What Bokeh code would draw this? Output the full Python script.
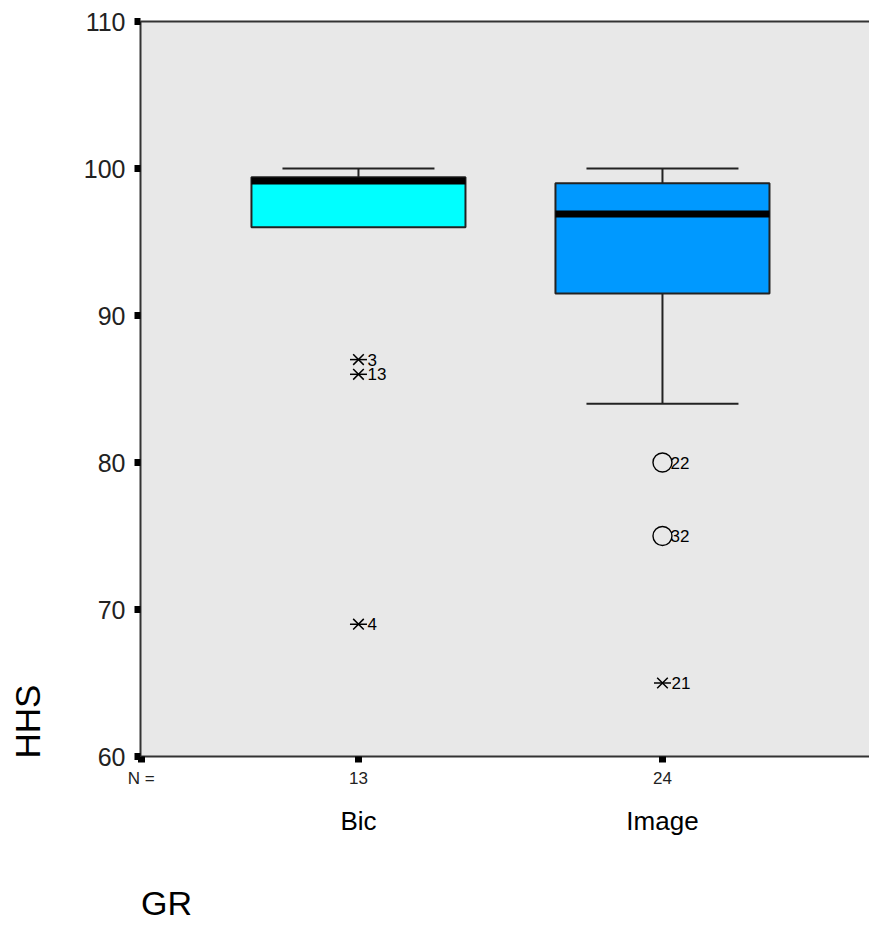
from bokeh.plotting import figure
from bokeh.models import Range1d, FixedTicker, Label, ColumnDataSource, LinearAxis
from bokeh.embed import file_html
from bokeh.resources import INLINE

# ---- data ----
groups = ["Bic", "Image"]
n_counts = ["13", "24"]
xpos = [1, 2]
q1 = [96.0, 91.5]
median = [99.15, 96.9]
q3 = [99.4, 99.0]
whisk_lo = [96.0, 84.0]
whisk_hi = [100.0, 100.0]
box_colors = ["#00FFFF", "#0099FF"]

star_x = [1, 1, 1, 2]
star_y = [87.0, 86.0, 69.0, 65.0]
star_lab = ["3", "13", "4", "21"]
circ_x = [2, 2]
circ_y = [80.0, 75.0]
circ_lab = ["22", "32"]

y_ticks = [60, 70, 80, 90, 100, 110]
x_title = "GR"
y_title = "HHS"

FONT = "Liberation Sans"
X0, X1 = 0.283, 2.681
Y0, Y1 = 60, 110

p = figure(width=869, height=925, output_backend="svg", toolbar_location=None,
           x_range=Range1d(X0, X1), y_range=Range1d(Y0, Y1),
           min_border_left=140, min_border_right=0, min_border_top=21,
           min_border_bottom=169)
p.border_fill_color = "white"
p.background_fill_color = "#E8E8E8"
p.grid.visible = False
p.outline_line_color = None

half_box = 0.352
half_cap = 0.25
LC = "#222222"

# whiskers
for i in range(2):
    p.segment(x0=[xpos[i]], y0=[q3[i]], x1=[xpos[i]], y1=[whisk_hi[i]], line_color=LC, line_width=2)
    p.segment(x0=[xpos[i] - half_cap], y0=[whisk_hi[i]], x1=[xpos[i] + half_cap], y1=[whisk_hi[i]], line_color=LC, line_width=2)
    if whisk_lo[i] < q1[i]:
        p.segment(x0=[xpos[i]], y0=[whisk_lo[i]], x1=[xpos[i]], y1=[q1[i]], line_color=LC, line_width=2)
        p.segment(x0=[xpos[i] - half_cap], y0=[whisk_lo[i]], x1=[xpos[i] + half_cap], y1=[whisk_lo[i]], line_color=LC, line_width=2)

src = ColumnDataSource(dict(x=xpos, bottom=q1, top=q3, color=box_colors, med=median))
p.vbar(x="x", bottom="bottom", top="top", width=2 * half_box, fill_color="color",
       line_color=LC, line_width=2, source=src)
p.rect(x="x", y="med", width=2 * half_box, height=7, height_units="screen",
       fill_color="black", line_color=None, source=src)

# outliers: extreme values as asterisk-like stars, outliers as circles
p.scatter(x=star_x, y=star_y, marker="dash", size=17, line_color="black", line_width=1.5)
p.scatter(x=star_x, y=star_y, marker="x", size=15, line_color="black", line_width=1.5)
p.scatter(x=circ_x, y=circ_y, marker="circle", size=19, fill_color=None, line_color="black", line_width=1.4)
for x, y, t in zip(star_x, star_y, star_lab):
    p.add_layout(Label(x=x, y=y, text=t, x_offset=9, text_baseline="middle", text_align="left",
                       text_font=FONT, text_font_size="17px", text_color="black"))
for x, y, t in zip(circ_x, circ_y, circ_lab):
    p.add_layout(Label(x=x, y=y, text=t, x_offset=8, text_baseline="middle", text_align="left",
                       text_font=FONT, text_font_size="17px", text_color="black"))

# y axis
p.yaxis.ticker = FixedTicker(ticks=y_ticks)
p.yaxis.major_label_text_font = FONT
p.yaxis.major_label_text_font_size = "25px"
p.yaxis.major_label_text_color = "#222222"
p.yaxis.major_tick_line_width = 7
p.yaxis.major_tick_line_color = "black"
p.yaxis.major_tick_out = 6
p.yaxis.major_tick_in = 0
p.yaxis.minor_tick_line_color = None
p.yaxis.axis_line_color = "#333333"
p.yaxis.axis_line_width = 2
p.yaxis.major_label_standoff = 9

# x axis with N counts
nx = X0 + 0.002
p.xaxis.ticker = FixedTicker(ticks=[nx] + xpos)
ov = {xpos[i]: n_counts[i] for i in range(2)}
ov[nx] = "N ="
p.xaxis.major_label_overrides = ov
p.xaxis.major_label_text_font = FONT
p.xaxis.major_label_text_font_size = "17px"
p.xaxis.major_label_text_color = "#222222"
p.xaxis.major_tick_line_width = 7
p.xaxis.major_tick_line_color = "black"
p.xaxis.major_tick_out = 6
p.xaxis.major_tick_in = 0
p.xaxis.minor_tick_line_color = None
p.xaxis.axis_line_color = "#333333"
p.xaxis.axis_line_width = 2
p.xaxis.major_label_standoff = 6


def text_axis(ticks, labels, standoff, size, side, orientation="horizontal"):
    ax = LinearAxis(ticker=FixedTicker(ticks=ticks),
                    major_label_overrides={t: l for t, l in zip(ticks, labels)})
    ax.axis_line_color = None
    ax.major_tick_line_color = None
    ax.minor_tick_line_color = None
    ax.major_tick_out = 0
    ax.major_tick_in = 0
    ax.major_label_standoff = standoff
    ax.major_label_text_font = FONT
    ax.major_label_text_font_size = size
    ax.major_label_text_color = "black"
    ax.major_label_orientation = orientation
    p.add_layout(ax, side)
    return ax


# group names
text_axis(xpos, groups, 15, "26px", "below")
# x title "GR" (left-aligned at frame start, as SPSS places it)
gr_x = X0 + 26 / 304
text_axis([gr_x], [x_title], 45, "34px", "below")
# y title "HHS" (bottom-aligned at frame bottom)
hhs_y = Y0 + 35 / 14.7
text_axis([hhs_y], [y_title], 34, "35px", "left", "vertical")

# top border line
tax = LinearAxis(ticker=FixedTicker(ticks=[]))
tax.axis_line_color = "#333333"
tax.axis_line_width = 2
tax.major_tick_line_color = None
tax.minor_tick_line_color = None
tax.major_label_text_font_size = "0px"
p.add_layout(tax, "above")

open("out.html", "w").write(file_html(p, INLINE))
